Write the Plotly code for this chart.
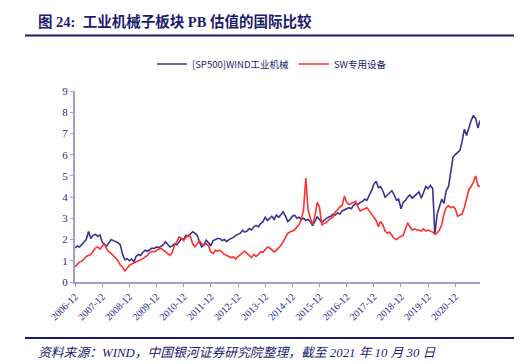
import pandas as pd
import plotly.graph_objects as go

# ---- data ----
month_starts = list(pd.date_range("2006-12-01", periods=179, freq="MS").strftime("%Y-%m-%d"))
dates = month_starts + ["2021-10-29"]

wind_ind_mach = [
    1.6,
    1.7, 1.65, 1.75, 1.9, 2.0, 2.38, 2.05, 2.2, 2.25, 2.15, 2.22, 1.9,
    1.75, 1.7, 1.85, 2.0, 1.95, 1.9, 1.85, 1.75, 1.3, 1.05, 1.1, 1.0,
    1.08, 0.95, 1.2, 1.3, 1.25, 1.4, 1.5, 1.45, 1.55, 1.6, 1.58, 1.65,
    1.62, 1.7, 1.75, 1.9, 1.75, 1.65, 1.7, 1.8, 1.75, 1.9, 2.05, 2.0,
    2.2, 2.15, 2.25, 2.37, 2.3, 2.2, 1.9, 1.65, 1.75, 1.97, 1.85, 1.7,
    1.95, 2.0, 2.05, 2.05, 1.95, 2.0, 1.9, 2.0, 2.05, 2.1, 2.2, 2.25,
    2.3, 2.44, 2.35, 2.4, 2.52, 2.45, 2.6, 2.67, 2.6, 2.75, 2.83, 3.05,
    2.9, 3.0, 3.1, 2.95, 3.15, 3.05, 3.2, 3.3, 3.1, 2.85, 2.95, 3.1,
    3.15, 3.0, 3.05, 2.95, 3.0, 2.9, 2.95, 2.85, 2.65, 2.9, 3.07, 2.95,
    2.8, 2.9, 3.0, 3.05, 3.1, 3.2, 3.15, 3.25, 3.2, 3.35, 3.4, 3.45,
    3.5, 3.45, 3.6, 3.7, 3.65, 3.75, 3.8, 3.9, 3.85, 4.1, 4.3, 4.6,
    4.75, 4.45, 4.5, 4.3, 4.0, 4.1, 4.2, 4.3, 4.1, 3.85, 3.9, 3.45,
    3.75, 3.85, 4.0, 4.1, 3.95, 4.05, 4.15, 4.25, 3.95, 4.25, 4.5, 4.4,
    4.55, 4.4, 2.25, 3.2, 3.5, 3.9, 3.7, 4.3, 4.5, 5.1, 5.9, 6.0,
    6.1, 6.2, 6.6, 7.2, 6.9, 7.3, 7.6, 7.85, 7.7, 7.25,
    7.6,
]

sw_special_equip = [
    0.72,
    0.85, 0.95, 0.98, 1.1, 1.2, 1.25, 1.3, 1.45, 1.6, 1.65, 1.55, 1.7,
    1.8, 1.55, 1.42, 1.35, 1.25, 1.1, 1.0, 0.8, 0.7, 0.52, 0.65, 0.78,
    0.85, 0.9, 0.95, 0.98, 1.02, 1.1, 1.18, 1.25, 1.4, 1.45, 1.42, 1.5,
    1.55, 1.58, 1.5, 1.4, 1.3, 1.25, 1.4, 1.73, 1.9, 2.12, 2.05, 1.95,
    2.1, 2.2, 2.15, 1.8, 1.65, 1.8, 1.95, 1.8, 1.75, 1.8, 1.7, 1.42,
    1.35, 1.5, 1.45, 1.5, 1.4, 1.3, 1.25, 1.2, 1.15, 1.18, 1.08, 1.2,
    1.3, 1.4, 1.45, 1.35, 1.25, 1.15, 1.3, 1.2, 1.3, 1.42, 1.4, 1.55,
    1.65, 1.6, 1.5, 1.42, 1.5, 1.6, 1.72, 1.9, 2.1, 2.3, 2.36, 2.4,
    2.45, 2.6, 2.7, 2.95, 3.4, 4.9, 3.4, 3.0, 2.7, 3.1, 3.75, 3.55,
    2.7, 2.75, 2.8, 2.9, 3.0, 3.05, 3.3, 3.4, 3.55, 3.6, 4.05, 3.75,
    3.65, 3.7, 3.75, 3.8, 3.55, 3.35, 3.4, 3.45, 3.5, 3.35, 3.2, 3.05,
    2.9, 2.6, 2.85, 2.7, 2.4, 2.3, 2.35, 2.2, 2.05, 2.0, 2.1, 2.15,
    2.2, 2.5, 2.8, 2.6, 2.45, 2.5, 2.45, 2.45, 2.4, 2.5, 2.4, 2.45,
    2.4, 2.35, 2.25, 2.3, 2.45, 2.7, 3.2, 3.5, 3.6, 3.5, 3.55, 3.45,
    3.1, 3.15, 3.2, 3.5, 3.9, 4.35, 4.5, 4.7, 5.0, 4.55,
    4.48,
]

tick_years = list(range(2006, 2021))
tick_vals = [f"{y}-12-01" for y in tick_years]
tick_text = [f"{y}-12" for y in tick_years]
y_ticks = list(range(0, 10))

name_blue = "[SP500]WIND工业机械"
name_red = "SW专用设备"

title_text = "图 24:  工业机械子板块 PB 估值的国际比较"
source_text = "资料来源：WIND，中国银河证券研究院整理，截至 2021 年 10 月 30 日"

# ---- styles ----
NAVY = "#1c1c6e"
BLUE = "#3b3291"
RED = "#ff3030"
AXIS = "#a0a0d0"
TICKFONT = "#2a2a8a"

W, H = 523, 364
PL, PR, PT, PB = 75, 480, 91, 282  # plot area in pixels


def fx(px):
    return px / W


def fy(py):
    return (H - py) / H


fig = go.Figure()
fig.add_trace(go.Scatter(x=dates, y=wind_ind_mach, mode="lines", name=name_blue,
                         line=dict(color=BLUE, width=1.6)))
fig.add_trace(go.Scatter(x=dates, y=sw_special_equip, mode="lines", name=name_red,
                         line=dict(color=RED, width=1.6)))

# decorative header / footer rules, drawn on a full-page pixel overlay axis
for rule_y in (35.5, 338):
    fig.add_trace(go.Scatter(x=[25, 514], y=[rule_y, rule_y], mode="lines",
                             xaxis="x2", yaxis="y2", showlegend=False, hoverinfo="skip",
                             line=dict(color=NAVY, width=2)))

fig.update_layout(
    width=W, height=H,
    margin=dict(l=0, r=0, t=0, b=0, autoexpand=False),
    paper_bgcolor="white", plot_bgcolor="rgba(0,0,0,0)",
    showlegend=True,
    legend=dict(orientation="h", x=fx(272), xanchor="center", y=fy(64), yanchor="middle",
                font=dict(family="Noto Sans CJK SC", size=9.5, color=NAVY),
                itemwidth=30, bgcolor="rgba(0,0,0,0)"),
    xaxis=dict(type="date", range=["2006-12-01", "2021-10-29"], domain=[fx(PL), fx(PR)],
               tickmode="array", tickvals=tick_vals, ticktext=tick_text,
               tickangle=-45, ticks="outside", ticklen=3, tickcolor=AXIS, tickwidth=1,
               showline=True, linecolor=AXIS, linewidth=2, showgrid=False, zeroline=False,
               tickfont=dict(family="Liberation Serif", size=10, color=TICKFONT)),
    yaxis=dict(range=[0, 9], domain=[fy(PB), fy(PT)], tickmode="array", tickvals=y_ticks,
               ticks="outside", ticklen=3, tickcolor=AXIS, tickwidth=1,
               showline=True, linecolor=AXIS, linewidth=2, showgrid=False, zeroline=False,
               tickfont=dict(family="Liberation Serif", size=11, color=TICKFONT)),
    xaxis2=dict(domain=[0, 1], range=[0, W], anchor="y2", visible=False, fixedrange=True),
    yaxis2=dict(domain=[0, 1], range=[H, 0], anchor="x2", visible=False, fixedrange=True),
)

fig.add_annotation(text=f"<b>{title_text}</b>", xref="paper", yref="paper",
                   x=fx(36), y=fy(21), xanchor="left", yanchor="middle", showarrow=False,
                   font=dict(family="Liberation Serif, Noto Sans CJK SC", size=14.5, color=NAVY))
fig.add_annotation(text=f"<i>{source_text}</i>", xref="paper", yref="paper",
                   x=fx(36), y=fy(352.5), xanchor="left", yanchor="middle", showarrow=False,
                   font=dict(family="Liberation Serif, Noto Sans CJK SC", size=12.8, color=NAVY))

fig.write_html("out.html", config={"displayModeBar": False},
               post_script="document.body.style.margin='0';document.body.style.overflow='hidden';")
